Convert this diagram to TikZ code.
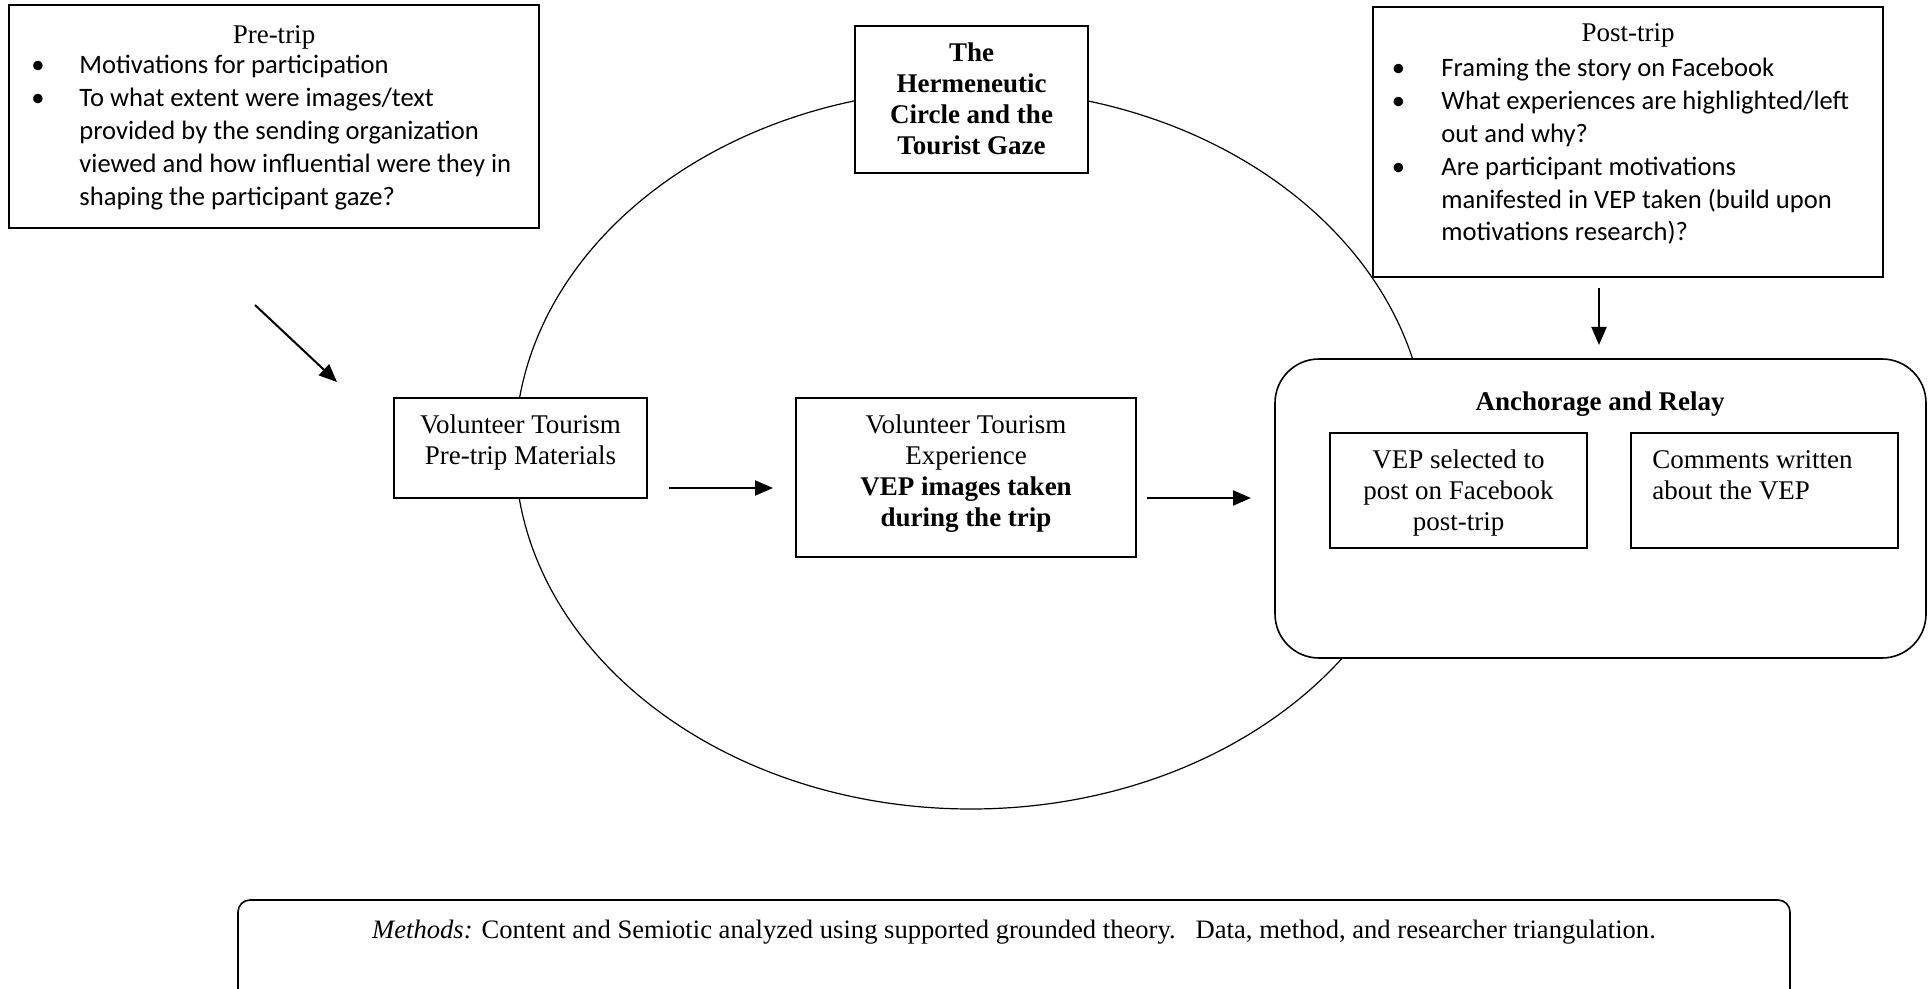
\documentclass[tikz,border=0pt]{standalone}
\usepackage{fontspec}
\setmainfont{Liberation Serif}
\newfontfamily\calibri{Carlito}
\usetikzlibrary{arrows.meta,fit}
\newcommand{\bul}[1]{\llap{\makebox[0pt]{\textbullet}\hspace{#1}}}
\begin{document}
\begin{tikzpicture}[x=0.5pt,y=-0.5pt,
  box/.style={draw, line width=0.8pt, fill=white, inner sep=0pt},
  rbox/.style={box, rounded corners=22pt},
  tnr/.style={font=\fontsize{13.5}{15.5}\selectfont, inner sep=0pt, align=center, anchor=north},
  tnrb/.style={font=\bfseries\fontsize{13.5}{15.5}\selectfont, inner sep=0pt, align=center, anchor=north},
  cal/.style={font=\calibri\fontsize{13.3}{16.4}\selectfont, inner sep=0pt, align=left, anchor=north west},
  arr/.style={line width=1pt, -{Triangle[length=9pt,width=7.5pt]}}]
\useasboundingbox (0,0) rectangle (1932,989);
\fill[white] (0,0) rectangle (1932,989);
\clip (0,0) rectangle (1932,989);

% circle
\draw[line width=0.6pt] (971,449) ellipse [x radius=228pt, y radius=180pt];

% pre-trip box
\node[box, fit={(9,5) (539,228)}] (pre) {};
\node[tnr] (pretitle) at (274,21.8) {\strut Pre-trip};
\node[cal] (prelist) at (79,50.5) {\strut\bul{20.75pt}Motivations for participation\\
\bul{20.75pt}To what extent were images/text\\
provided by the sending organization\\
viewed and how influential were they in\\
shaping the participant gaze?};

% hermeneutic
\node[box, fit={(855,26) (1088,173)}] (herm) {};
\node[tnrb] (hermtext) at (971.5,39.8) {\strut The\\Hermeneutic\\Circle and the\\Tourist Gaze};

% post-trip box
\node[box, fit={(1373,7) (1883,277)}] (post) {};
\node[tnr] (posttitle) at (1628,19.8) {\strut Post-trip};
\node[cal] (postlist) at (1441,53.5) {\strut\bul{21.5pt}Framing the story on Facebook\\
\bul{21.5pt}What experiences are highlighted/left\\
out and why?\\
\bul{21.5pt}Are participant motivations\\
manifested in VEP taken (build upon\\
motivations research)?};

% volunteer pre-trip materials
\node[box, fit={(394,398) (647,498)}] (mat) {};
\node[tnr] (mattext) at (520.5,411.8) {\strut Volunteer Tourism\\Pre-trip Materials};

% experience
\node[box, fit={(796,398) (1136,557)}] (exp) {};
\node[tnr] (exptext) at (966,411.8) {\strut Volunteer Tourism\\Experience\\\textbf{VEP images taken}\\\textbf{during the trip}};

% anchorage and relay
\node[rbox, fit={(1275,359) (1926,658)}] (anch) {};
\node[tnrb] (anchtitle) at (1600,388.8) {\strut Anchorage and Relay};
\node[box, fit={(1330,433) (1587,548)}] (sel) {};
\node[tnr] (seltext) at (1458.5,446.8) {\strut VEP selected to\\post on Facebook\\post-trip};
\node[box, fit={(1631,433) (1898,548)}] (com) {};
\node[tnr, anchor=north west, align=left] (comtext) at (1652,446.8) {\strut Comments written\\about the VEP};

% methods
\node[box, rounded corners=6pt, fit={(238,900) (1790,1020)}] (meth) {};
\node[tnr, font=\fontsize{13.3}{15.5}\selectfont, anchor=base] (methtext) at (1014,938) {\textit{Methods:} Content and Semiotic analyzed using supported grounded theory.\ \ \ Data, method, and researcher triangulation.};

% arrows
\coordinate (a1s) at (255,305);
\coordinate (a1e) at (337,382);
\draw[arr] (a1s) -- (a1e);
\coordinate (a2s) at (669,488);
\coordinate (a2e) at (773,488);
\draw[arr] (a2s) -- (a2e);
\coordinate (a3s) at (1147,498);
\coordinate (a3e) at (1251,498);
\draw[arr] (a3s) -- (a3e);
\coordinate (a4s) at (1599,288);
\coordinate (a4e) at (1599,345);
\draw[arr] (a4s) -- (a4e);
\end{tikzpicture}
\end{document}
